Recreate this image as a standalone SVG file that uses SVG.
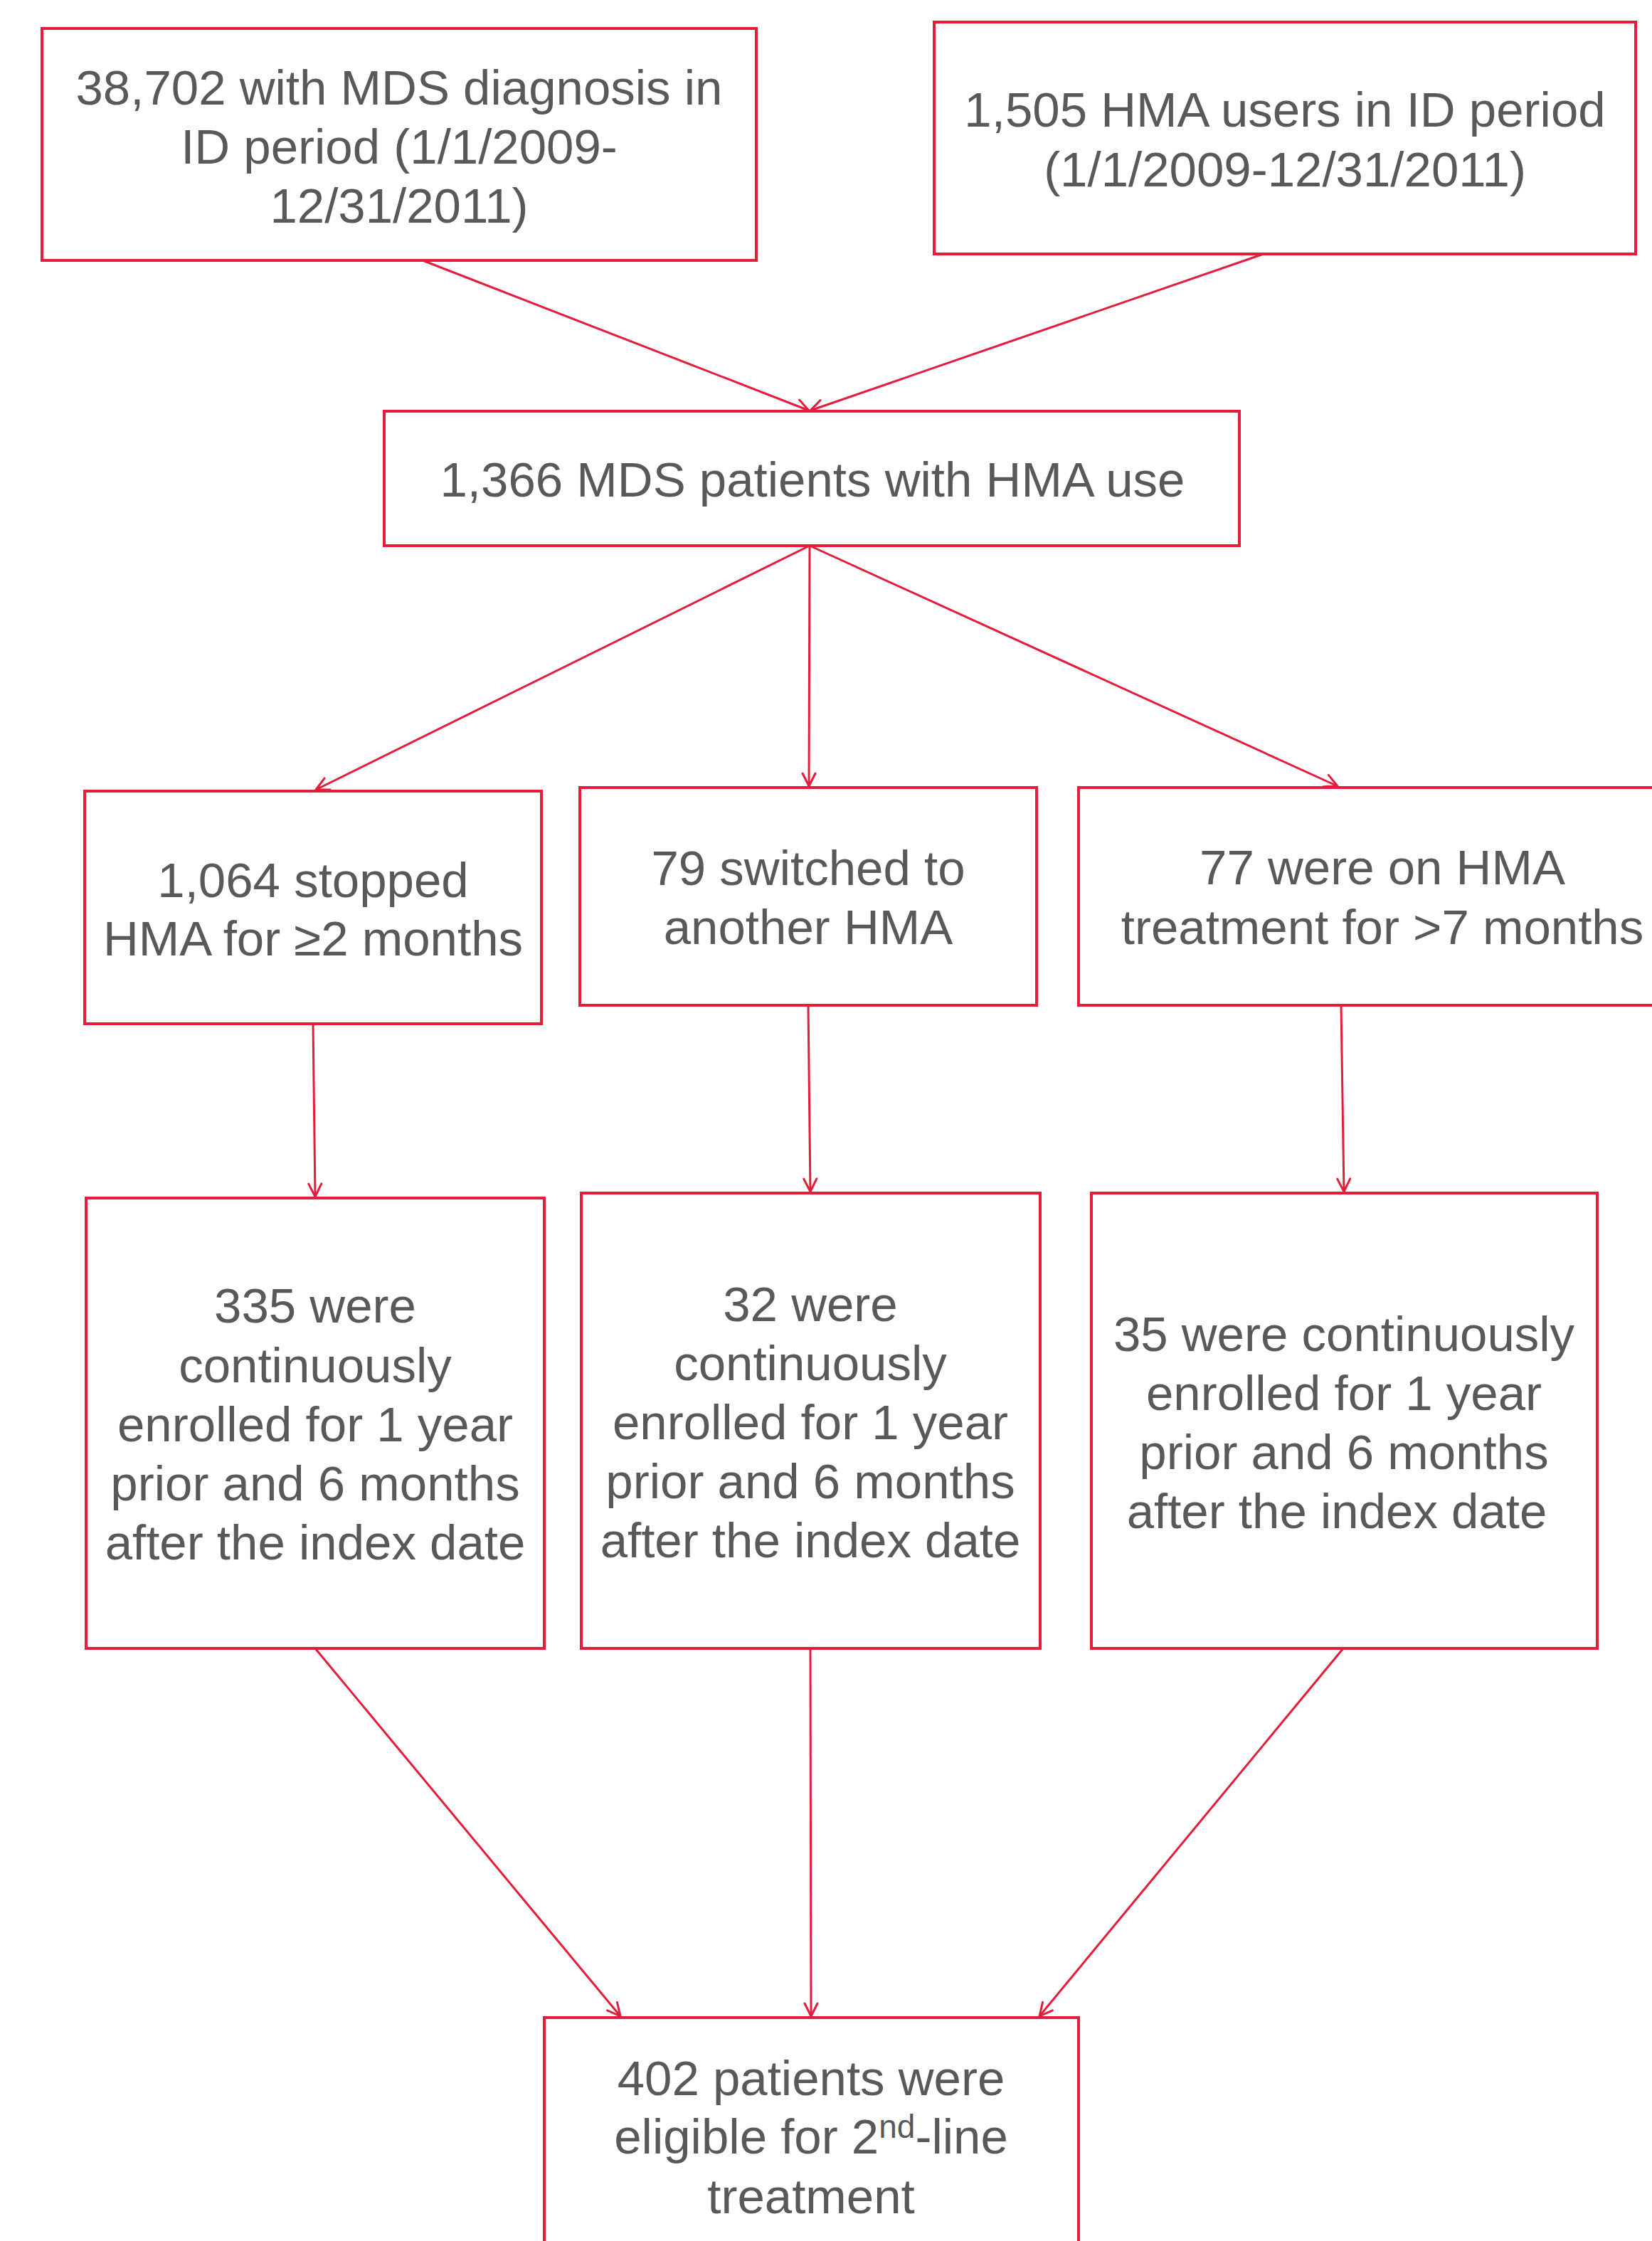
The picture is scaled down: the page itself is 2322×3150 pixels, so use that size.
<svg xmlns="http://www.w3.org/2000/svg" width="2322" height="3150" viewBox="0 0 2322 3150">
<style>
.box{fill:#ffffff;stroke:#e31d3b;stroke-width:4}
.t{font-family:"Liberation Sans",Arial,sans-serif;font-size:69px;fill:#58595b;text-anchor:middle}
.c{fill:none;stroke:#e31d3b;stroke-width:3;marker-end:url(#ah)}
</style>
<defs>
<marker id="ah" markerUnits="userSpaceOnUse" viewBox="-22 -14 26 28" refX="0" refY="0" markerWidth="26" markerHeight="28" orient="auto" overflow="visible">
<path d="M-18,-9 L0,0 L-18,9" fill="none" stroke="#e31d3b" stroke-width="3" stroke-linecap="round" stroke-linejoin="round"/>
</marker>
</defs>
<rect width="2322" height="3150" fill="#ffffff"/>
<g id="connectors">
<line class="c" x1="594" y1="366" x2="1137" y2="577"/>
<line class="c" x1="1776" y1="357" x2="1139" y2="577"/>
<line class="c" x1="1138" y1="767" x2="444" y2="1110"/>
<line class="c" x1="1138" y1="767" x2="1137" y2="1105"/>
<line class="c" x1="1138" y1="767" x2="1880" y2="1105"/>
<line class="c" x1="440" y1="1439" x2="443" y2="1682"/>
<line class="c" x1="1136" y1="1413" x2="1139" y2="1675"/>
<line class="c" x1="1885" y1="1413" x2="1889" y2="1675"/>
<line class="c" x1="443" y1="2317" x2="872" y2="2834"/>
<line class="c" x1="1139" y1="2317" x2="1140" y2="2834"/>
<line class="c" x1="1888" y1="2317" x2="1461" y2="2834"/>
</g>
<g id="nodeA">
<rect class="box" x="59" y="40" width="1004" height="326"/>
<text class="t" x="561" y="147">38,702 with MDS diagnosis in</text>
<text class="t" x="561" y="230">ID period (1/1/2009-</text>
<text class="t" x="561" y="313">12/31/2011)</text>
</g>
<g id="nodeB">
<rect class="box" x="1313" y="31" width="986" height="326"/>
<text class="t" x="1806" y="178">1,505 HMA users in ID period</text>
<text class="t" x="1806" y="262">(1/1/2009-12/31/2011)</text>
</g>
<g id="nodeC">
<rect class="box" x="540" y="578" width="1202" height="189"/>
<text class="t" x="1142" y="698">1,366 MDS patients with HMA use</text>
</g>
<g id="nodeD">
<rect class="box" x="119" y="1112" width="642" height="327"/>
<text class="t" x="440" y="1261">1,064 stopped</text>
<text class="t" x="440" y="1343">HMA for ≥2 months</text>
</g>
<g id="nodeE">
<rect class="box" x="815" y="1107" width="642" height="306"/>
<text class="t" x="1136" y="1244">79 switched to</text>
<text class="t" x="1136" y="1327">another HMA</text>
</g>
<g id="nodeF">
<rect class="box" x="1516" y="1107" width="854" height="306"/>
<text class="t" x="1943" y="1243">77 were on HMA</text>
<text class="t" x="1943" y="1327">treatment for &gt;7 months</text>
</g>
<g id="nodeG">
<rect class="box" x="121" y="1684" width="644" height="633"/>
<text class="t" x="443" y="1859">335 were</text>
<text class="t" x="443" y="1943">continuously</text>
<text class="t" x="443" y="2026">enrolled for 1 year</text>
<text class="t" x="443" y="2109">prior and 6 months</text>
<text class="t" x="443" y="2192">after the index date</text>
</g>
<g id="nodeH">
<rect class="box" x="817" y="1677" width="645" height="640"/>
<text class="t" x="1139" y="1857">32 were</text>
<text class="t" x="1139" y="1940">continuously</text>
<text class="t" x="1139" y="2023">enrolled for 1 year</text>
<text class="t" x="1139" y="2106">prior and 6 months</text>
<text class="t" x="1139" y="2189">after the index date</text>
</g>
<g id="nodeI">
<rect class="box" x="1534" y="1677" width="711" height="640"/>
<text class="t" x="1889" y="1899">35 were continuously</text>
<text class="t" x="1889" y="1982">enrolled for 1 year</text>
<text class="t" x="1889" y="2065">prior and 6 months</text>
<text class="t" x="1879" y="2148">after the index date</text>
</g>
<g id="nodeJ">
<rect class="box" x="765" y="2836" width="751" height="340"/>
<text class="t" x="1140" y="2945">402 patients were</text>
<text class="t" x="1140" y="3027">eligible for 2<tspan font-size="46" dy="-22">nd</tspan><tspan dy="22">-line</tspan></text>
<text class="t" x="1140" y="3111">treatment</text>
</g>
</svg>
